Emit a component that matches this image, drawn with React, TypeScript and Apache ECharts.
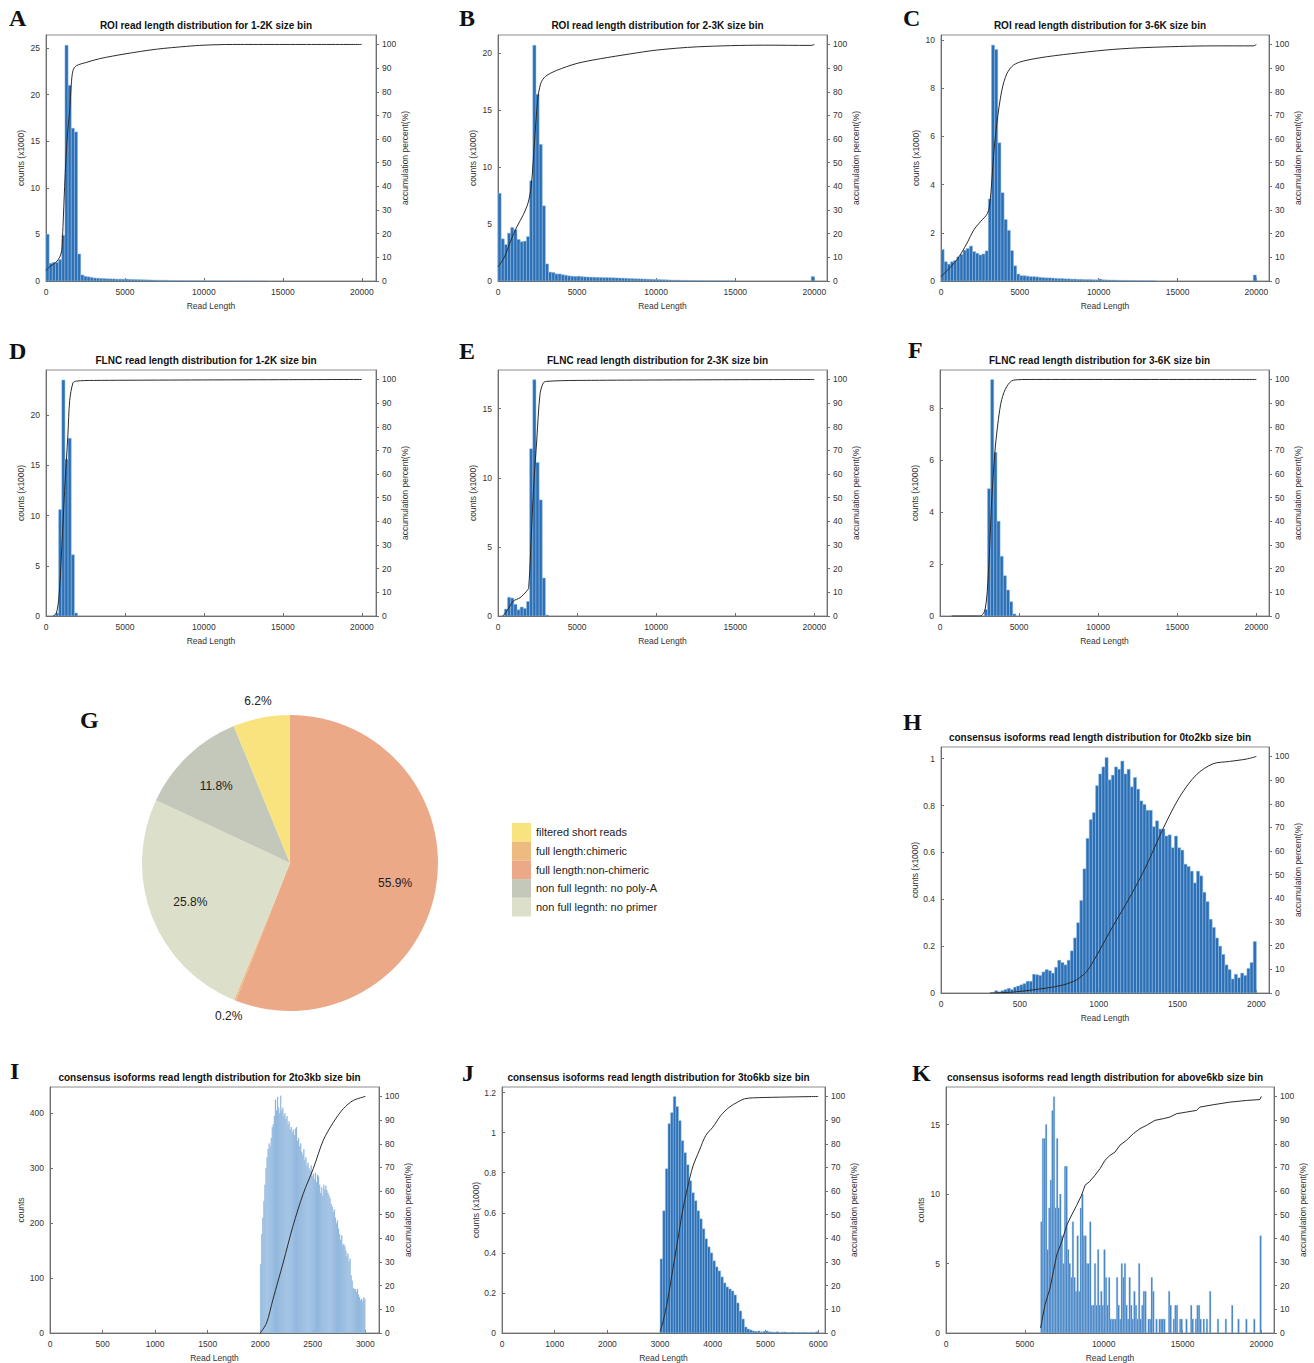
import React, { useEffect, useRef } from "react";
import * as echarts from "echarts";

const FONT = "'Liberation Sans', Arial, Helvetica, sans-serif";
const SERIF = "'Liberation Serif', 'DejaVu Serif', Times, serif";

// ---------- tick labels ----------
const xTicks20k = [0, 5000, 10000, 15000, 20000];
const xTicks2k = [0, 500, 1000, 1500, 2000];
const xTicks3k = [0, 500, 1000, 1500, 2000, 2500, 3000];
const xTicks6k = [0, 1000, 2000, 3000, 4000, 5000, 6000];
const pctTicks = [0, 10, 20, 30, 40, 50, 60, 70, 80, 90, 100];
const yTicksA = [0, 5, 10, 15, 20, 25];
const yTicksB = [0, 5, 10, 15, 20];
const yTicksC = [0, 2, 4, 6, 8, 10];
const yTicksD = [0, 5, 10, 15, 20];
const yTicksE = [0, 5, 10, 15];
const yTicksF = [0, 2, 4, 6, 8];
const yTicksH = [0, 0.2, 0.4, 0.6, 0.8, 1];
const yTicksI = [0, 100, 200, 300, 400];
const yTicksJ = [0, 0.2, 0.4, 0.6, 0.8, 1, 1.2];
const yTicksK = [0, 5, 10, 15];

// ---------- histogram counts ----------
// A: ROI 1-2K, 200 bp bins from 0
const roiA = [5.0, 1.9, 2.0, 2.0, 2.3, 4.9, 25.3, 21.0, 16.4, 16.0, 2.9, 0.65, 0.5, 0.45, 0.38, 0.32, 0.3, 0.28, 0.26, 0.24, 0.23, 0.22, 0.2, 0.2, 0.19, 0.2, 0.18, 0.17, 0.16, 0.15, 0.14, 0.13, 0.12, 0.11, 0.1, 0.09, 0.08, 0.08, 0.07, 0.06, 0.06, 0.05, 0.05, 0.04, 0.04, 0.035, 0.03, 0.03, 0.025, 0.02, 0.02, 0.018, 0.015, 0.015, 0.012, 0.01, 0.01, 0.01, 0.008, 0.008, 0.006, 0.006, 0.005, 0.005, 0.004, 0.004, 0.003, 0.003, 0.003, 0.002];
// B: ROI 2-3K
const roiB = [7.7, 3.7, 3.2, 4.2, 4.7, 4.5, 3.65, 3.45, 3.5, 3.9, 8.8, 20.7, 16.4, 12.0, 6.6, 1.5, 0.78, 0.75, 0.62, 0.62, 0.55, 0.5, 0.45, 0.42, 0.4, 0.42, 0.38, 0.36, 0.35, 0.34, 0.33, 0.32, 0.31, 0.3, 0.3, 0.29, 0.28, 0.27, 0.26, 0.25, 0.24, 0.22, 0.21, 0.2, 0.19, 0.18, 0.17, 0.16, 0.15, 0.14, 0.13, 0.12, 0.11, 0.1, 0.09, 0.08, 0.08, 0.07, 0.06, 0.06, 0.05, 0.05, 0.04, 0.04, 0.035, 0.03, 0.03, 0.025, 0.025, 0.02, 0.02, 0.015, 0.015, 0.01, 0.01];
const roiBLast: [number, number][] = [[19800, 0.4]];
// C: ROI 3-6K
const roiC = [1.31, 0.8, 0.7, 0.8, 0.85, 1.0, 1.1, 1.28, 1.35, 1.45, 1.22, 1.15, 1.08, 1.12, 1.25, 3.4, 9.78, 9.6, 5.73, 3.66, 2.55, 2.1, 1.26, 0.63, 0.29, 0.22, 0.22, 0.2, 0.18, 0.18, 0.17, 0.15, 0.14, 0.13, 0.13, 0.12, 0.11, 0.1, 0.1, 0.09, 0.09, 0.08, 0.08, 0.07, 0.07, 0.06, 0.06, 0.06, 0.05, 0.05, 0.08, 0.05, 0.045, 0.04, 0.04, 0.035, 0.03, 0.03, 0.025, 0.025, 0.02, 0.02, 0.018, 0.015, 0.015, 0.012, 0.01, 0.01];
const roiCLast: [number, number][] = [[19800, 0.25]];
// D/E/F: FLNC, 200 bp bins
const flncD = [0.3, 10.6, 23.5, 15.6, 17.7, 6.1, 0.3]; // from 600
const flncE = [0.5, 1.35, 1.3, 0.85, 0.45, 0.65, 0.55, 1.05, 12.1, 17.1, 11.1, 8.4, 2.75, 0.07]; // from 400
const flncF = [0.25, 4.9, 9.1, 6.3, 3.65, 2.3, 1.55, 1.0, 0.55, 0.08]; // from 2800
// H: 0to2kb, 20 bp bins from 340
const isoH = [0.01, 0.005, 0.01, 0.015, 0.02, 0.015, 0.025, 0.03, 0.035, 0.04, 0.05, 0.05, 0.08, 0.078, 0.075, 0.09, 0.1, 0.095, 0.085, 0.11, 0.14, 0.13, 0.12, 0.14, 0.18, 0.235, 0.3, 0.395, 0.53, 0.66, 0.74, 0.77, 0.885, 0.935, 0.965, 1.005, 0.91, 0.93, 0.965, 0.955, 0.99, 0.935, 0.955, 0.88, 0.92, 0.87, 0.82, 0.805, 0.78, 0.78, 0.71, 0.735, 0.7, 0.7, 0.67, 0.675, 0.62, 0.67, 0.62, 0.61, 0.55, 0.54, 0.52, 0.47, 0.52, 0.5, 0.43, 0.39, 0.315, 0.28, 0.235, 0.2, 0.165, 0.12, 0.1, 0.06, 0.08, 0.065, 0.085, 0.075, 0.105, 0.13, 0.22];
// I: 2to3kb, 10 bp bins from 2000 (counts)
const isoI = [125, 180, 210, 240, 270, 300, 320, 335, 345, 340, 355, 375, 380, 395, 425, 405, 430, 410, 400, 432, 405, 410, 395, 400, 390, 395, 380, 385, 370, 375, 365, 370, 360, 372, 375, 350, 355, 340, 345, 330, 325, 335, 315, 320, 305, 310, 300, 295, 305, 285, 290, 280, 292, 275, 288, 285, 270, 255, 265, 250, 270, 262, 268, 260, 255, 250, 245, 235, 230, 220, 225, 210, 200, 205, 190, 180, 170, 178, 160, 162, 158, 150, 140, 145, 130, 135, 105, 95, 82, 80, 80, 75, 80, 70, 65, 60, 62, 58, 65, 62];
// J: 3to6kb, 50 bp bins from 3000 (x1000)
const isoJ = [0.37, 0.61, 0.82, 1.045, 1.1, 1.18, 1.13, 1.06, 0.96, 0.9, 0.84, 0.76, 0.7, 0.66, 0.61, 0.57, 0.52, 0.47, 0.43, 0.4, 0.36, 0.33, 0.31, 0.28, 0.25, 0.23, 0.22, 0.21, 0.19, 0.15, 0.11, 0.07, 0.03, 0.02, 0.015, 0.01, 0.008, 0.01, 0.005, 0.008, 0.01, 0.006, 0.005, 0.004, 0.006, 0.003, 0.004, 0.005, 0.002, 0.003, 0.004, 0.002, 0.003, 0.002, 0.003, 0.002, 0.002, 0.003, 0.002, 0.006];
// K: above6kb, 100 bp bins from 6000 (counts)
const isoK = [8, 14, 14, 15, 6, 9, 11, 16, 17, 9, 14, 9, 10, 7, 5, 12, 12, 6, 5, 4, 8, 4, 3, 7, 3, 9, 10, 7, 7, 5, 5, 8, 2, 2, 5, 2, 6, 2, 3, 2, 6, 4, 2, 4, 1, 1, 1, 1, 4, 2, 1, 5, 4, 5, 2, 1, 4, 2, 1, 3, 2, 1, 5, 1, 2, 3, 3, 0, 1, 1, 4, 3, 0, 1, 0, 1, 1, 1, 1, 0, 0, 3, 2, 0, 1, 2, 2, 0, 1, 1, 0, 0, 1, 0, 0, 2, 1, 0, 1, 2, 2, 1, 0, 1, 0, 1, 0, 3, 0, 0, 0, 0, 1, 0, 0, 0, 0, 1, 0, 0, 0, 2, 0, 0, 0, 1, 0, 0, 0, 0, 1, 0, 0, 0, 0, 1, 0, 0, 0, 7];

// ---------- accumulation percent curves [read length, %] ----------
const cumA = [[0, 4.5], [230, 6], [650, 8], [860, 10], [1000, 13], [1075, 23], [1180, 40], [1290, 55], [1400, 65], [1500, 72], [1600, 83], [1710, 89], [1920, 91], [2550, 92.4], [3400, 94], [5000, 96], [7000, 98], [8900, 99.2], [10000, 99.7], [11800, 100], [20000, 100]];
const cumB = [[0, 6], [400, 10], [800, 17], [1200, 23], [1600, 28], [1900, 33], [2100, 40], [2300, 58], [2500, 76], [2700, 83.5], [3000, 86.5], [3700, 89], [5000, 92], [6500, 94], [8350, 96], [10000, 97.6], [12600, 99], [16800, 99.7], [19800, 99.6], [20000, 100]];
const cumC = [[0, 1.8], [1000, 8.9], [1650, 16], [2070, 21.5], [2490, 25], [2950, 28.6], [3120, 34], [3330, 52.5], [3540, 66.6], [3860, 80.7], [4180, 87.7], [4600, 91.3], [5230, 93], [6700, 94.8], [8800, 96.5], [10900, 97.9], [13000, 98.7], [17260, 99.4], [19800, 99.4], [20000, 100]];
const cumD = [[440, 0], [650, 1.1], [820, 8], [970, 25], [1180, 53], [1390, 77], [1500, 91], [1710, 98.6], [1920, 99.3], [3000, 99.6], [20000, 100]];
const cumE = [[300, 0], [550, 2], [970, 6.3], [1390, 7.7], [1810, 10.5], [1940, 12], [2130, 38], [2280, 57.6], [2450, 74.4], [2660, 94], [2870, 98.6], [3080, 99.2], [5000, 99.6], [20000, 100]];
const cumF = [[740, 0], [2530, 0], [2850, 2.7], [3060, 18], [3270, 49], [3480, 70], [3690, 83], [3900, 91.5], [4220, 97], [4640, 99.7], [5700, 100], [20000, 100]];
const cumH = [[310, 0], [460, 0.4], [670, 2.1], [780, 3.5], [860, 5.6], [925, 9.2], [990, 16.2], [1090, 28.2], [1200, 40.8], [1300, 53.5], [1410, 69.7], [1515, 83.1], [1620, 92.3], [1725, 96.9], [1830, 97.9], [1937, 98.9], [2000, 100]];
const cumI = [[2000, 0], [2060, 4.2], [2120, 14], [2220, 30], [2310, 45], [2410, 59], [2505, 69.5], [2600, 81.5], [2695, 89], [2790, 94.8], [2885, 98.3], [3000, 100]];
const cumJ = [[3000, 0.7], [3050, 4.2], [3145, 14], [3240, 26.7], [3335, 39.3], [3430, 52], [3525, 61.8], [3620, 70.2], [3745, 77.2], [3870, 83.6], [4000, 87], [4155, 92], [4315, 95.5], [4470, 97.6], [4600, 99], [4760, 99.4], [5260, 99.7], [6000, 100]];
const cumK = [[6000, 2.1], [6280, 12], [6600, 19], [6810, 26], [7020, 33], [7340, 38.6], [7660, 45.6], [7970, 49.9], [8290, 54], [8600, 58.3], [8820, 62.5], [9090, 63.9], [9450, 66.7], [9770, 69.5], [10080, 73], [10400, 75.1], [10720, 76.5], [11030, 79.4], [11450, 81.5], [11880, 84.3], [12300, 86.4], [12720, 87.8], [13250, 89.9], [13770, 90.6], [14200, 91.3], [14620, 92.7], [15250, 93.4], [15880, 94.1], [16100, 95.5], [16940, 96.5], [18000, 97.6], [19050, 98.3], [19900, 98.7], [20000, 100]];

// ---------- pie ----------
const pieNames = ["full length:non-chimeric", "full length:chimeric", "non full legnth: no primer", "non full legnth: no poly-A", "filtered short reads"];
const pieValues = [55.9, 0.2, 25.8, 11.8, 6.2];
const pieColors = ["#EBA987", "#EDBB7F", "#DCDFCA", "#C4C8BA", "#F8E37F"];
const legendOrder = ["filtered short reads", "full length:chimeric", "full length:non-chimeric", "non full legnth: no poly-A", "non full legnth: no primer"];

type Panel = {
  letter: string; lx: number; ly: number; title: string;
  left: number; top: number; width: number; height: number;
  xMax: number; xTicks: number[]; yMax: number; yTicks: number[]; yName: string;
  start: number; bin: number; counts: number[]; extra?: [number, number][];
  cum: number[][]; smooth: boolean; fill: string; stroke: string; sw: number;
};

const BLUE = "#2d6fb4";
const EDGE = "#93bfe6";

const panels: Panel[] = [
  { letter: "A", lx: 9, ly: 18, title: "ROI read length distribution for 1-2K size bin", left: 46, top: 35, width: 330, height: 246, xMax: 20900, xTicks: xTicks20k, yMax: 26.4, yTicks: yTicksA, yName: "counts (x1000)", start: 0, bin: 200, counts: roiA, cum: cumA, smooth: true, fill: BLUE, stroke: EDGE, sw: 0.5 },
  { letter: "B", lx: 459, ly: 18, title: "ROI read length distribution for 2-3K size bin", left: 498, top: 35, width: 329, height: 246, xMax: 20800, xTicks: xTicks20k, yMax: 21.6, yTicks: yTicksB, yName: "counts (x1000)", start: 0, bin: 200, counts: roiB, extra: roiBLast, cum: cumB, smooth: true, fill: BLUE, stroke: EDGE, sw: 0.5 },
  { letter: "C", lx: 903, ly: 18, title: "ROI read length distribution for 3-6K size bin", left: 941, top: 35, width: 328, height: 246, xMax: 20800, xTicks: xTicks20k, yMax: 10.2, yTicks: yTicksC, yName: "counts (x1000)", start: 0, bin: 200, counts: roiC, extra: roiCLast, cum: cumC, smooth: true, fill: BLUE, stroke: EDGE, sw: 0.5 },
  { letter: "D", lx: 9, ly: 351, title: "FLNC read length distribution for 1-2K size bin", left: 46, top: 370, width: 330, height: 246, xMax: 20900, xTicks: xTicks20k, yMax: 24.5, yTicks: yTicksD, yName: "counts (x1000)", start: 600, bin: 200, counts: flncD, cum: cumD, smooth: true, fill: BLUE, stroke: EDGE, sw: 0.5 },
  { letter: "E", lx: 459, ly: 351, title: "FLNC read length distribution for 2-3K size bin", left: 498, top: 370, width: 329, height: 246, xMax: 20800, xTicks: xTicks20k, yMax: 17.8, yTicks: yTicksE, yName: "counts (x1000)", start: 400, bin: 200, counts: flncE, cum: cumE, smooth: true, fill: BLUE, stroke: EDGE, sw: 0.5 },
  { letter: "F", lx: 908, ly: 350, title: "FLNC read length distribution for 3-6K size bin", left: 940, top: 370, width: 329, height: 246, xMax: 20800, xTicks: xTicks20k, yMax: 9.47, yTicks: yTicksF, yName: "counts (x1000)", start: 2800, bin: 200, counts: flncF, cum: cumF, smooth: true, fill: BLUE, stroke: EDGE, sw: 0.5 },
  { letter: "H", lx: 903, ly: 722, title: "consensus isoforms read length distribution for 0to2kb size bin", left: 941, top: 747, width: 328, height: 246, xMax: 2080, xTicks: xTicks2k, yMax: 1.05, yTicks: yTicksH, yName: "counts (x1000)", start: 340, bin: 20, counts: isoH, cum: cumH, smooth: true, fill: BLUE, stroke: EDGE, sw: 0.5 },
  { letter: "I", lx: 10, ly: 1071, title: "consensus isoforms read length distribution for 2to3kb size bin", left: 50, top: 1087, width: 329, height: 246, xMax: 3130, xTicks: xTicks3k, yMax: 448, yTicks: yTicksI, yName: "counts", start: 2000, bin: 10, counts: isoI, cum: cumI, smooth: true, fill: "#7eaad6", stroke: "#b9d4ee", sw: 0.3 },
  { letter: "J", lx: 462, ly: 1073, title: "consensus isoforms read length distribution for 3to6kb size bin", left: 502, top: 1087, width: 323, height: 246, xMax: 6130, xTicks: xTicks6k, yMax: 1.228, yTicks: yTicksJ, yName: "counts (x1000)", start: 3000, bin: 50, counts: isoJ, cum: cumJ, smooth: true, fill: BLUE, stroke: EDGE, sw: 0.5 },
  { letter: "K", lx: 912, ly: 1073, title: "consensus isoforms read length distribution for above6kb size bin", left: 946, top: 1087, width: 328, height: 246, xMax: 20800, xTicks: xTicks20k, yMax: 17.7, yTicks: yTicksK, yName: "counts", start: 6000, bin: 100, counts: isoK, cum: cumK, smooth: false, fill: "#3a7bc0", stroke: "#a3c7e8", sw: 0.4 },
];

const AX = "#6e6e6e";
const labelStyle = { fontSize: 8.5, color: "#333", fontFamily: FONT };

function buildOption() {
  const grid: any[] = [];
  const xAxis: any[] = [];
  const yAxis: any[] = [];
  const series: any[] = [];
  const graphic: any[] = [];

  panels.forEach((p, i) => {
    grid.push({ left: p.left, top: p.top, width: p.width, height: p.height, show: true, borderColor: "#8c8c8c", borderWidth: 1, backgroundColor: "transparent" });
    xAxis.push({
      type: "value", gridIndex: i, min: 0, max: p.xMax, interval: p.xTicks[1] - p.xTicks[0],
      axisLine: { show: true, onZero: false, lineStyle: { color: AX, width: 1 } },
      axisTick: { show: true, inside: true, length: 3, customValues: p.xTicks, lineStyle: { color: AX } },
      axisLabel: { show: true, customValues: p.xTicks, margin: 6, formatter: (v: number) => String(v), ...labelStyle },
      splitLine: { show: false },
      name: "Read Length", nameLocation: "middle", nameGap: 20, nameTextStyle: { ...labelStyle },
    });
    yAxis.push({
      type: "value", gridIndex: i, position: "left", min: 0, max: p.yMax, interval: p.yTicks[1] - p.yTicks[0],
      axisLine: { show: true, onZero: false, lineStyle: { color: AX, width: 1 } },
      axisTick: { show: true, inside: true, length: 3, customValues: p.yTicks, lineStyle: { color: AX } },
      axisLabel: { show: true, customValues: p.yTicks, margin: 6, formatter: (v: number) => String(v), ...labelStyle },
      splitLine: { show: false },
      name: p.yName, nameLocation: "middle", nameGap: 21, nameRotate: 90, nameTextStyle: { ...labelStyle },
    });
    yAxis.push({
      type: "value", gridIndex: i, position: "right", min: 0, max: 104, interval: 10,
      axisLine: { show: true, onZero: false, lineStyle: { color: AX, width: 1 } },
      axisTick: { show: true, inside: false, length: 3, customValues: pctTicks, lineStyle: { color: AX } },
      axisLabel: { show: true, customValues: pctTicks, margin: 6, formatter: (v: number) => String(v), ...labelStyle },
      splitLine: { show: false },
      name: "accumulation percent(%)", nameLocation: "middle", nameGap: 18, nameRotate: 90, nameTextStyle: { ...labelStyle },
    });

    const bars: number[][] = [];
    p.counts.forEach((c, k) => {
      if (c > 0) bars.push([p.start + k * p.bin, p.start + (k + 1) * p.bin, c]);
    });
    (p.extra || []).forEach(([s, c]) => bars.push([s, s + p.bin, c]));

    const fill = p.fill, stroke = p.stroke, sw = p.sw;
    series.push({
      type: "custom", xAxisIndex: i, yAxisIndex: 2 * i, silent: true, clip: true,
      data: bars, encode: { x: [0, 1], y: 2 },
      renderItem: (params: any, api: any) => {
        const a = api.coord([api.value(0), 0]);
        const b = api.coord([api.value(1), api.value(2)]);
        return {
          type: "rect",
          shape: { x: a[0], y: b[1], width: b[0] - a[0], height: a[1] - b[1] },
          style: { fill, stroke, lineWidth: sw },
        };
      },
    });
    series.push({
      type: "line", xAxisIndex: i, yAxisIndex: 2 * i + 1, silent: true,
      data: p.cum, showSymbol: false, symbol: "none", smooth: p.smooth ? 0.3 : false,
      lineStyle: { color: "#2b2b2b", width: 1 }, z: 5,
    });

    graphic.push({
      type: "text", x: p.left + p.width / 2 - 5, y: p.top - 10,
      style: { text: p.title, textAlign: "center", textVerticalAlign: "middle", font: `bold 10px ${FONT}`, fill: "#111" },
    });
    graphic.push({
      type: "text", x: p.lx, y: p.ly,
      style: { text: p.letter, textAlign: "left", textVerticalAlign: "middle", font: `bold 24px ${SERIF}`, fill: "#111" },
    });
  });

  graphic.push({
    type: "text", x: 80, y: 720,
    style: { text: "G", textAlign: "left", textVerticalAlign: "middle", font: `bold 24px ${SERIF}`, fill: "#111" },
  });

  const pieData = pieNames.map((n, k) => ({ name: n, value: pieValues[k], itemStyle: { color: pieColors[k] } }));
  const pieLabel = { fontSize: 12, color: "#222", fontFamily: FONT };
  series.push({
    type: "pie", center: [290, 863], radius: [0, 148], startAngle: 90, clockwise: true,
    data: pieData, label: { show: false }, labelLine: { show: false }, silent: true,
    itemStyle: { borderWidth: 0 }, emphasis: { disabled: true },
  });
  series.push({
    type: "pie", center: [290, 863], radius: [60, 148], startAngle: 90, clockwise: true, silent: true,
    avoidLabelOverlap: false, emphasis: { disabled: true },
    data: pieNames.map((n, k) => ({
      name: n, value: pieValues[k], itemStyle: { color: "rgba(0,0,0,0)" },
      label: { show: pieValues[k] >= 10 },
    })),
    label: { position: "inside", formatter: (q: any) => q.value.toFixed(1) + "%", ...pieLabel },
    labelLine: { show: false },
  });
  series.push({
    type: "pie", center: [290, 863], radius: [148, 176], startAngle: 90, clockwise: true, silent: true,
    avoidLabelOverlap: false, emphasis: { disabled: true },
    data: pieNames.map((n, k) => ({
      name: n, value: pieValues[k], itemStyle: { color: "rgba(0,0,0,0)" },
      label: { show: pieValues[k] < 10 },
    })),
    label: { position: "inside", formatter: (q: any) => q.value.toFixed(1) + "%", ...pieLabel },
    labelLine: { show: false },
  });

  return {
    animation: false,
    backgroundColor: "#ffffff",
    grid, xAxis, yAxis, series, graphic,
    legend: {
      data: legendOrder, orient: "vertical", left: 512, top: 823, padding: 0,
      itemWidth: 19, itemHeight: 18.7, itemGap: 0, icon: "rect", selectedMode: false,
      textStyle: { fontSize: 11, color: "#222", fontFamily: FONT },
    },
  };
}

export default function App() {
  const ref = useRef<HTMLDivElement>(null);
  useEffect(() => {
    if (!ref.current) return;
    const chart = echarts.init(ref.current, null, { renderer: "svg" });
    chart.setOption(buildOption() as any);
    return () => chart.dispose();
  }, []);
  return (
    <div
      ref={ref}
      style={{ position: "absolute", left: 0, top: 0, width: 1314, height: 1363, background: "#fff" }}
    />
  );
}
